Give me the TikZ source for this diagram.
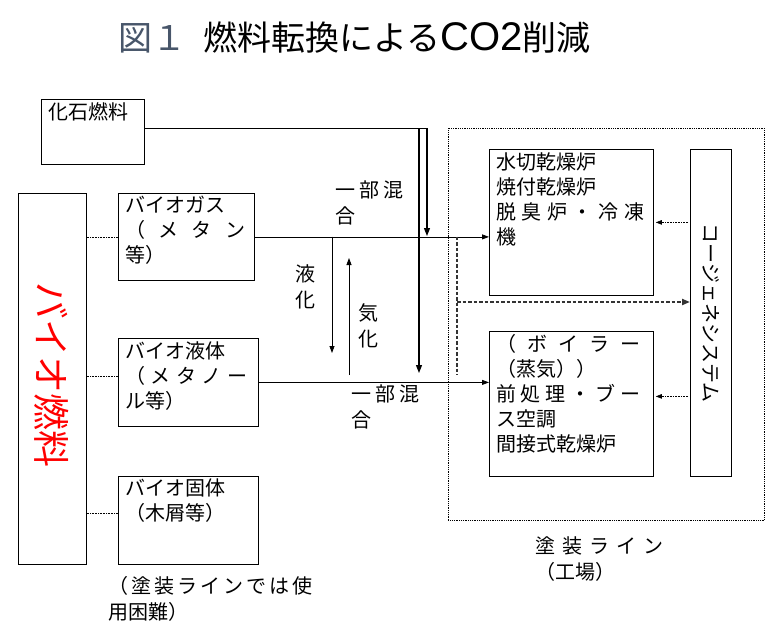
\documentclass[tikz,border=0pt]{standalone}
\usepackage{fontspec}
\setmainfont{Noto Sans CJK JP}
\newfontfamily\latinsans{Liberation Sans}
\usetikzlibrary{arrows.meta, positioning}
\definecolor{titlegray}{RGB}{72,86,106}

\tikzset{
  box/.style={draw, line width=0.8pt, inner sep=0pt, anchor=north west},
  txt/.style={anchor=north west, inner xsep=7pt, inner ysep=3pt, align=left,
              font=\fontsize{20}{25}\selectfont},
  lbl/.style={inner sep=0pt, align=left, font=\fontsize{20}{26}\selectfont},
  link/.style={densely dotted, line width=0.6pt},
  flow/.style={line width=0.8pt, -{Triangle[length=7pt,width=5pt]}},
  feed/.style={line width=1.3pt, -{Triangle[length=8pt,width=6pt]}},
  dashline/.style={line width=2pt, black!80, dash pattern=on 3.5pt off 2pt},
}
\newcommand{\spreadline}[2]{\makebox[#1][s]{#2}}

\begin{document}
\begin{tikzpicture}[x=1pt, y=-1pt]
  \useasboundingbox (0,0) rectangle (779,635);

  % title
  \node[anchor=west, inner sep=0pt, font=\fontsize{34}{38}\selectfont] (title) at (118,38)
    {\textcolor{titlegray}{図１}\hspace{0.5em}燃料転換による{\latinsans\fontsize{40}{42}\selectfont CO2}削減};

  % sources
  \node[box, minimum width=103, minimum height=65] (fossil) at (41,99) {};
  \node[txt] (fossiltxt) at (fossil.north west) {化石燃料};

  \node[box, minimum width=68, minimum height=371] (biofuel) at (18,193) {};
  \node[rotate=-90, text=red, font=\fontsize{37}{40}\selectfont] (biofueltxt)
    at (52,375) {バイオ燃料};

  \node[box, minimum width=136, minimum height=87] (biogas) at (118,193) {};
  \node[txt] (biogastxt) at (biogas.north west)
    {バイオガス\\\spreadline{6em}{（\hfill メ\hfill タ\hfill ン}\\等）};
  \node[box, minimum width=140, minimum height=88] (bioliquid) at (118,338) {};
  \node[txt] (bioliquidtxt) at (bioliquid.north west)
    {バイオ液体\\\spreadline{6.1em}{（\hfill メ\hfill タ\hfill ノ\hfill ー}\\ル等）};
  \node[box, minimum width=140, minimum height=88] (biosolid) at (118,476) {};
  \node[txt] (biosolidtxt) at (biosolid.north west) {バイオ固体\\（木屑等）};

  % painting line
  \node[box, link, minimum width=316, minimum height=392] (factory) at (448,128) {};
  \node[box, minimum width=164, minimum height=146] (furn1) at (489,149) {};
  \node[txt] (furn1txt) at (furn1.north west)
    {水切乾燥炉\\焼付乾燥炉\\\spreadline{7.4em}{脱\hfill 臭\hfill 炉\hfill ・\hfill 冷\hfill 凍}\\機};
  \node[box, minimum width=164, minimum height=145] (furn2) at (489,331) {};
  \node[txt] (furn2txt) at (furn2.north west)
    {\spreadline{7.2em}{（\hfill ボ\hfill イ\hfill ラ\hfill ー}\\（蒸気））\\\spreadline{7.2em}{前\hfill 処\hfill 理\hfill ・\hfill ブ\hfill ー}\\ス空調\\間接式乾燥炉};
  \node[box, minimum width=41, minimum height=327] (cogen) at (690,149) {};
  \node[rotate=-90, font=\fontsize{20}{24}\selectfont] (cogentxt) at (cogen.center)
    {コージェネシステム};

  % links from bio fuel
  \draw[link] (biofuel.east |- biogas.west) -- (biogas.west);
  \draw[link] (biofuel.east |- 0,376) -- (biogas.west |- 0,376);
  \draw[link] (biofuel.east |- 0,513) -- (biogas.west |- 0,513);

  % main flows
  \draw[flow] (biogas.east) -- (biogas.east -| furn1.west);
  \draw[flow] (bioliquid.east) -- (bioliquid.east -| furn2.west);

  \coordinate (gasmix) at (427,236);
  \coordinate (liqmix) at (419,373);
  \draw[feed] ([yshift=3.5pt]fossil.east) -| (gasmix);
  \draw[feed] ([yshift=3.5pt]fossil.east) -| (liqmix);

  \node[lbl, anchor=north west] (mixlbl1) at (335,181)
    {\spreadline{3.4em}{一\hfill 部\hfill 混}\\合};
  \node[lbl, anchor=north west] (mixlbl2) at (351,385)
    {\spreadline{3.4em}{一\hfill 部\hfill 混}\\合};

  % liquefy / gasify
  \coordinate (liqtop) at (332,236.5);
  \coordinate (liqbot) at (332,353);
  \coordinate (gasbot) at (349,375);
  \coordinate (gastop) at (349,258);
  \draw[flow] (liqtop) -- (liqbot);
  \draw[flow] (gasbot) -- (gastop);
  \node[lbl] (liqlbl) at (305,287) {液\\化};
  \node[lbl] (gaslbl) at (368,326) {気\\化};

  % to cogeneration
  \coordinate (dtop) at (457,236.5);
  \coordinate (dmid) at (457,302);
  \coordinate (dbot) at (457,375);
  \draw[dashline] (dtop) -- (dbot);
  \draw[dashline, -{Triangle[length=8pt,width=6pt]}] (dmid) -- (dmid -| cogen.west);

  % from cogeneration
  \coordinate (cgb) at ([yshift=7.5pt]furn2.east);
  \draw[link, -{Triangle[length=6pt,width=4.5pt]}, shorten <=2pt, shorten >=2pt]
    (cogen.west |- furn1.east) -- (furn1.east);
  \draw[link, -{Triangle[length=6pt,width=4.5pt]}, shorten <=2pt, shorten >=2pt]
    (cgb -| cogen.west) -- (cgb);

  % notes
  \node[lbl, anchor=north west] (linelbl) at (535,536)
    {\spreadline{6.4em}{塗\hfill 装\hfill ラ\hfill イ\hfill ン}\\（工場）};
  \node[lbl, anchor=north west] (notelbl) at (108,576)
    {\spreadline{10.2em}{（\hfill 塗\hfill 装\hfill ラ\hfill イ\hfill ン\hfill で\hfill は\hfill 使}\\用困難）};
\end{tikzpicture}
\end{document}
